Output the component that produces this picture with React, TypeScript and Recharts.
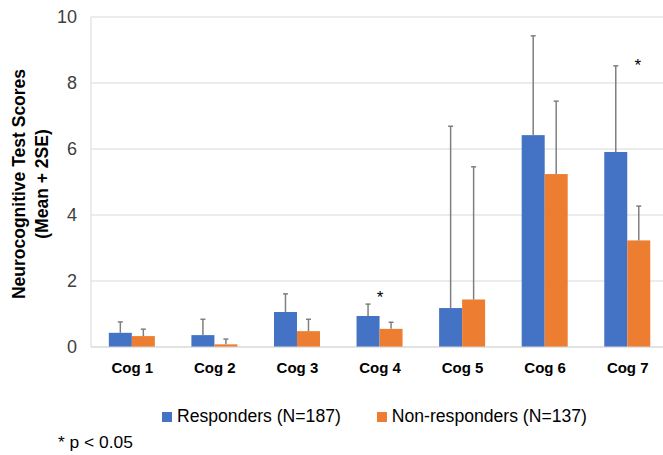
import React from "react";
import { BarChart, Bar, XAxis, YAxis, CartesianGrid, ReferenceDot } from "recharts";

const categories = ["Cog 1", "Cog 2", "Cog 3", "Cog 4", "Cog 5", "Cog 6", "Cog 7"];
const responders = [0.43, 0.36, 1.06, 0.94, 1.18, 6.42, 5.91];
const respondersUpper = [0.76, 0.84, 1.61, 1.3, 6.69, 9.43, 8.52];
const nonResponders = [0.33, 0.08, 0.48, 0.55, 1.44, 5.24, 3.23];
const nonRespondersUpper = [0.54, 0.24, 0.84, 0.75, 5.46, 7.45, 4.27];
const yTicks = [0, 2, 4, 6, 8, 10];
const seriesNames = ["Responders (N=187)", "Non-responders (N=137)"];
const seriesColors = ["#4472C4", "#ED7D31"];
const sigMarks = [
  { cat: "Cog 4", y: 1.64, dx: 0 },
  { cat: "Cog 7", y: 8.67, dx: 10 },
];

const data = categories.map((c, i) => ({
  cat: c,
  r: responders[i],
  rUp: respondersUpper[i],
  n: nonResponders[i],
  nUp: nonRespondersUpper[i],
}));

const FONT = "'Liberation Sans', Arial, sans-serif";

const XTick = (props: any) => {
  const { x, y, payload } = props;
  return (
    <text x={x} y={y} dy="0.71em" textAnchor="middle" fontSize={15} fontWeight="bold" fill="#000" fontFamily={FONT}>
      {payload.value}
    </text>
  );
};

const YTitle = () => (
  <g fontFamily={FONT} fontWeight="bold" fontSize={17.5} fill="#000">
    <text transform="translate(19,184) rotate(-90)" textAnchor="middle" dominantBaseline="central">
      Neurocognitive Test Scores
    </text>
    <text transform="translate(42,184) rotate(-90)" textAnchor="middle" dominantBaseline="central">
      (Mean + 2SE)
    </text>
  </g>
);

const Star = (dx: number) => (props: any) => {
  const vb = props.viewBox || {};
  const cx = vb.x + (vb.width || 0) / 2;
  const cy = vb.y + (vb.height || 0) / 2;
  return (
    <text x={cx + dx} y={cy + 10} textAnchor="middle" fontSize={17} fill="#000" fontFamily={FONT}>
      *
    </text>
  );
};

// Bar shape with an upward-only error bar (mean + 2SE), scaled from the bar's own pixel height
const makeShape = (valueKey: string, upperKey: string) => (props: any) => {
  const { x, y, width, height, fill, payload } = props;
  const v = payload[valueKey];
  const up = payload[upperKey];
  const pxPerUnit = v ? height / v : 0;
  const yTop = y - (up - v) * pxPerUnit;
  const cx = x + width / 2;
  return (
    <g>
      <rect x={x} y={y} width={width} height={height} fill={fill} />
      <line x1={cx} y1={y} x2={cx} y2={yTop} stroke="#7f7f7f" strokeWidth={1.5} />
      <line x1={cx - 2.5} y1={yTop} x2={cx + 2.5} y2={yTop} stroke="#7f7f7f" strokeWidth={1.5} />
    </g>
  );
};

export default function App() {
  return (
    <div style={{ position: "absolute", left: 0, top: 0, width: 663, height: 455, overflow: "hidden", background: "#fff", fontFamily: FONT }}>
      <BarChart
        width={671}
        height={455}
        data={data}
        margin={{ top: 17, right: 2, left: 0, bottom: 78 }}
        barCategoryGap="21.6%"
        barGap={0}
      >
        <CartesianGrid vertical={false} stroke="#d9d9d9" strokeWidth={1} />
        <XAxis
          dataKey="cat"
          axisLine={{ stroke: "#d9d9d9" }}
          tickLine={false}
          tickSize={0}
          tickMargin={15}
          height={30}
          tick={<XTick />}
          interval={0}
        />
        <YAxis
          width={91}
          domain={[0, 10]}
          ticks={yTicks}
          axisLine={{ stroke: "#d9d9d9" }}
          tickLine={false}
          tickSize={0}
          tickMargin={14}
          tick={{ fontSize: 18, fill: "#404040", fontFamily: FONT }}
          label={<YTitle />}
        />
        <Bar dataKey="r" name={seriesNames[0]} fill={seriesColors[0]} isAnimationActive={false} shape={makeShape("r", "rUp")} />
        <Bar dataKey="n" name={seriesNames[1]} fill={seriesColors[1]} isAnimationActive={false} shape={makeShape("n", "nUp")} />
        {sigMarks.map((m) => (
          <ReferenceDot key={m.cat} x={m.cat} y={m.y} r={0} stroke="none" fill="none" label={Star(m.dx)} />
        ))}
      </BarChart>
      <div style={{ position: "absolute", top: 406, left: 162, display: "flex", alignItems: "center", fontSize: 17.6, color: "#000", whiteSpace: "nowrap" }}>
        {seriesNames.map((n, i) => (
          <div key={n} style={{ display: "flex", alignItems: "center", marginRight: 36 }}>
            <span style={{ display: "inline-block", width: 10, height: 10, background: seriesColors[i], marginRight: 5 }} />
            <span>{n}</span>
          </div>
        ))}
      </div>
      <div style={{ position: "absolute", top: 432, left: 58, fontSize: 17.4, color: "#000", whiteSpace: "nowrap" }}>* p &lt; 0.05</div>
    </div>
  );
}
